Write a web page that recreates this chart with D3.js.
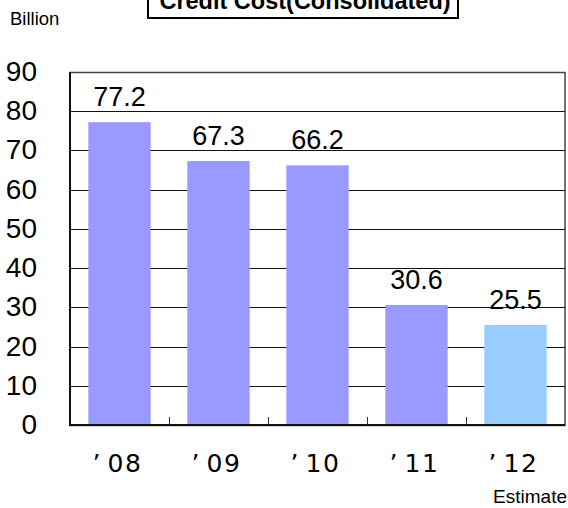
<!DOCTYPE html>
<html><head><meta charset="utf-8">
<script src="https://cdn.jsdelivr.net/npm/d3@7"></script>
<style>body{margin:0;background:#fff}svg{display:block}</style>
</head><body>
<script>
const categories = ["’08", "’09", "’10", "’11", "’12"];
const values = [77.2, 67.3, 66.2, 30.6, 25.5];
const estimateFlags = [false, false, false, false, true];
const yTicks = [0, 10, 20, 30, 40, 50, 60, 70, 80, 90];
const titleText = "Credit Cost(Consolidated)";
const unitText = "Billion";
const noteText = "Estimate";

const W = 568, H = 508;
const m = {left: 70, right: 3, top: 72, bottom: 83};
const svg = d3.select("body").append("svg").attr("width", W).attr("height", H);
const x = d3.scaleBand().domain(categories).range([m.left, W - m.right]).paddingInner(0.37).paddingOuter(0.185);
const xb = d3.scaleBand().domain(categories).range([m.left, W - m.right]);
const y = d3.scaleLinear().domain([0, 90]).range([H - m.bottom, m.top]);
const sans = "Liberation Sans, Arial, sans-serif";

// plot border / grid
svg.append("rect").attr("x", m.left).attr("y", m.top + 0.5).attr("width", W - m.right - m.left).attr("height", y(0) - m.top)
  .attr("fill", "#fff").attr("stroke", "#444").attr("stroke-width", 1.5);
svg.append("g").selectAll("line").data(yTicks.filter(d => d > 0 && d < 90)).join("line")
  .attr("x1", m.left).attr("x2", W - m.right).attr("y1", d => Math.round(y(d)) + 0.5).attr("y2", d => Math.round(y(d)) + 0.5)
  .attr("stroke", "#111").attr("stroke-width", 1.2);

// bars
svg.append("g").selectAll("rect").data(values).join("rect")
  .attr("x", (d, i) => x(categories[i])).attr("width", x.bandwidth())
  .attr("y", d => y(d)).attr("height", d => y(0) - y(d))
  .attr("fill", (d, i) => estimateFlags[i] ? "#99CCFF" : "#9999FF");

// axes lines
svg.append("line").attr("x1", m.left).attr("x2", m.left).attr("y1", m.top).attr("y2", y(0)).attr("stroke", "#111").attr("stroke-width", 2);
svg.append("line").attr("x1", m.left - 1).attr("x2", W - m.right).attr("y1", y(0)).attr("y2", y(0)).attr("stroke", "#111").attr("stroke-width", 2);
// category ticks
svg.append("g").selectAll("line").data(categories.slice(1)).join("line")
  .attr("x1", d => Math.round(xb(d)) + 0.5).attr("x2", d => Math.round(xb(d)) + 0.5)
  .attr("y1", y(0)).attr("y2", y(0) - 8).attr("stroke", "#333").attr("stroke-width", 1);

// y tick labels
svg.append("g").selectAll("text").data(yTicks).join("text")
  .attr("x", 37).attr("y", d => y(d) + 9).attr("text-anchor", "end")
  .attr("font-family", sans).attr("font-size", 28).attr("fill", "#000")
  .text(d => d);

// value labels
svg.append("g").selectAll("text").data(values).join("text")
  .attr("x", (d, i) => x(categories[i]) + x.bandwidth() / 2).attr("y", d => y(d) - 16)
  .attr("text-anchor", "middle").attr("font-family", sans).attr("font-size", 27).attr("fill", "#000")
  .text(d => d.toFixed(1));

// x labels
const xl = svg.append("g").selectAll("text").data(categories).join("text")
  .attr("x", d => x(d) + x.bandwidth() / 2 - 2).attr("y", 472)
  .attr("text-anchor", "middle").attr("font-family", "DejaVu Sans, sans-serif").attr("font-size", 25).attr("fill", "#000");
xl.append("tspan").text(d => d.slice(0, 1));
xl.append("tspan").attr("dx", 7).attr("letter-spacing", 1.5).text(d => d.slice(1));

// title box
svg.append("rect").attr("x", 148).attr("y", -10).attr("width", 310).attr("height", 28).attr("fill", "#fff").attr("stroke", "#000").attr("stroke-width", 2);
svg.append("text").attr("x", 305).attr("y", 9).attr("text-anchor", "middle")
  .attr("font-family", sans).attr("font-weight", "bold").attr("font-size", 23.5).text(titleText);

svg.append("text").attr("x", 10).attr("y", 25).attr("font-family", sans).attr("font-size", 18.5).text(unitText);
svg.append("text").attr("x", 567).attr("y", 503).attr("text-anchor", "end").attr("font-family", sans).attr("font-size", 19).text(noteText);
</script>
</body></html>
